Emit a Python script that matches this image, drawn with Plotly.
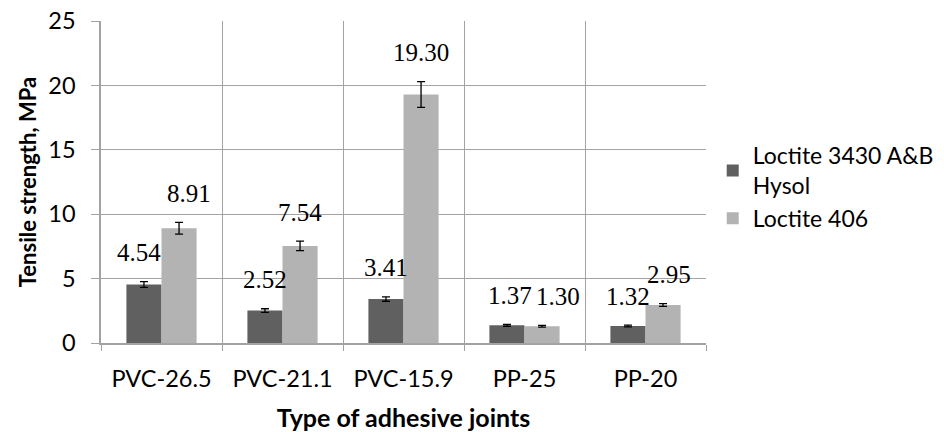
import plotly.graph_objects as go

categories = ["PVC-26.5", "PVC-21.1", "PVC-15.9", "PP-25", "PP-20"]
series_names = ["Loctite 3430 A&B<br>Hysol", "Loctite 406"]
loctite_3430 = [4.54, 2.52, 3.41, 1.37, 1.32]
loctite_3430_err = [0.22, 0.14, 0.17, 0.07, 0.07]
loctite_406 = [8.91, 7.54, 19.30, 1.30, 2.95]
loctite_406_err = [0.45, 0.37, 1.00, 0.07, 0.10]
y_ticks = [0, 5, 10, 15, 20, 25]

# label nudges (px), style only
nudge_dark = [-5, 0, 0, 3, 0]
nudge_light = [10, 0, 0, 16, 6]

DARK = "#606060"
LIGHT = "#b3b3b3"
GRID = "#a3a3a3"
SANS = "Lato, 'Open Sans', sans-serif"
SERIF = "'Liberation Serif', 'Times New Roman', serif"

fig = go.Figure()
for name, vals, errs, col in [
    (series_names[0], loctite_3430, loctite_3430_err, DARK),
    (series_names[1], loctite_406, loctite_406_err, LIGHT),
]:
    fig.add_trace(go.Bar(
        name=name, x=categories, y=vals,
        marker=dict(color=col, line=dict(width=0)),
        error_y=dict(type="data", array=errs, visible=True,
                     color="black", thickness=1.3, width=4),
    ))

half = 17.5
annots = []
for i, c in enumerate(categories):
    for vals, errs, sign, nud in [
        (loctite_3430, loctite_3430_err, -1, nudge_dark),
        (loctite_406, loctite_406_err, 1, nudge_light),
    ]:
        annots.append(dict(
            x=c, y=vals[i] + errs[i], xref="x", yref="y",
            text=f"{vals[i]:.2f}", showarrow=False,
            xshift=sign * half + nud[i], yshift=29, yanchor="middle",
            font=dict(family=SERIF, size=25, color="black"),
        ))

fig.update_layout(
    width=944, height=432,
    margin=dict(l=101, r=238, t=21, b=89, autoexpand=False),
    paper_bgcolor="white", plot_bgcolor="white",
    barmode="group", bargap=0.42, bargroupgap=0,
    annotations=annots,
    legend=dict(
        xref="container", yref="container",
        x=0.755, y=0.567, xanchor="left", yanchor="middle",
        font=dict(family=SANS, size=23, color="black"),
        bgcolor="rgba(0,0,0,0)", tracegroupgap=25,
    ),
    xaxis=dict(
        type="category", tickson="boundaries", automargin=False,
        showgrid=True, gridcolor=GRID, gridwidth=1,
        showline=True, linecolor=GRID, linewidth=1.5,
        ticks="outside", ticklen=6, tickcolor=GRID,
        tickfont=dict(family=SANS, size=23.5, color="black"),
        ticklabelstandoff=14,
        title=dict(text="<b>Type of adhesive joints</b>",
                   font=dict(family=SANS, size=25, color="black"),
                   standoff=20),
    ),
    yaxis=dict(
        range=[0, 25], tickvals=y_ticks, automargin=False,
        showgrid=True, gridcolor=GRID, gridwidth=1,
        showline=True, linecolor=GRID, linewidth=1.5,
        ticks="outside", ticklen=8, tickcolor=GRID,
        zeroline=False,
        tickfont=dict(family=SANS, size=23.5, color="black"),
        ticklabelstandoff=11,
        title=dict(text="<b>Tensile strength, MPa</b>",
                   font=dict(family=SANS, size=22, color="black"),
                   standoff=6),
    ),
)

fig.write_html("out.html", config={"displayModeBar": False},
               post_script="document.body.style.margin='0px';")
